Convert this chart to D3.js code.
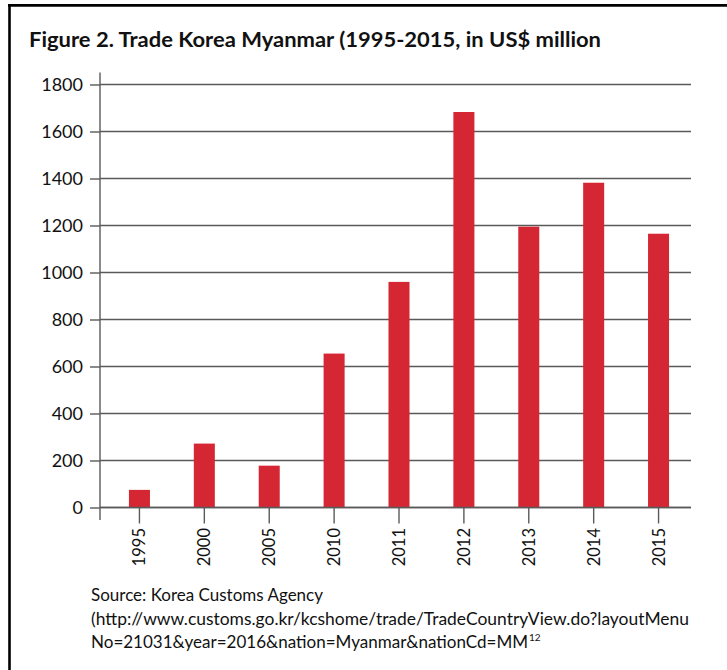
<!DOCTYPE html>
<html>
<head>
<meta charset="utf-8">
<script src="https://cdn.jsdelivr.net/npm/d3@7"></script>
<style>
  html, body { margin: 0; padding: 0; background: #fff; }
  svg { display: block; }
  text { font-family: Lato, "Open Sans", sans-serif; fill: #111; }
</style>
</head>
<body>
<svg id="chart" width="727" height="670"></svg>
<script>
const years = ["1995", "2000", "2005", "2010", "2011", "2012", "2013", "2014", "2015"];
const tradeValues = [75, 272, 178, 655, 960, 1683, 1195, 1382, 1165];
const yTicks = [0, 200, 400, 600, 800, 1000, 1200, 1400, 1600, 1800];
const titleText = "Figure 2. Trade Korea Myanmar (1995-2015, in US$ million";
const sourceLines = [
  "Source: Korea Customs Agency",
  "(http://www.customs.go.kr/kcshome/trade/TradeCountryView.do?layoutMenu",
  "No=21031&year=2016&nation=Myanmar&nationCd=MM"
];
const sourceSup = "12";

const svg = d3.select("#chart");
const W = 727, H = 670;
const plot = { left: 100, right: 691, top: 84.5, bottom: 507.5 };
const barColor = "#d52733";
const gridColor = "#5a5a5a";

// Frame (top and left)
svg.append("line").attr("x1", 8).attr("x2", W).attr("y1", 5.3).attr("y2", 5.3)
  .attr("stroke", "#000").attr("stroke-width", 2.8);
svg.append("line").attr("x1", 9.5).attr("x2", 9.5).attr("y1", 4).attr("y2", H)
  .attr("stroke", "#000").attr("stroke-width", 2.6);

// Title
svg.append("text")
  .attr("x", 29).attr("y", 47)
  .attr("font-size", 20).attr("font-weight", "bold")
  .attr("textLength", 572).attr("lengthAdjust", "spacingAndGlyphs")
  .text(titleText);

const x = d3.scaleBand().domain(years).range([107, plot.right])
  .paddingInner(0.676).paddingOuter(0.338);
const y = d3.scaleLinear().domain([0, 1800]).range([plot.bottom, plot.top]);

// Gridlines
svg.append("g").selectAll("line").data(yTicks).join("line")
  .attr("x1", plot.left).attr("x2", plot.right)
  .attr("y1", d => y(d)).attr("y2", d => y(d))
  .attr("stroke", gridColor).attr("stroke-width", 1.4);

// Bars
svg.append("g").selectAll("rect").data(years).join("rect")
  .attr("x", d => x(d))
  .attr("width", x.bandwidth())
  .attr("y", (d, i) => y(tradeValues[i]))
  .attr("height", (d, i) => y(0) - y(tradeValues[i]))
  .attr("fill", barColor);

// Redraw zero line on top of bars
svg.append("line")
  .attr("x1", plot.left).attr("x2", plot.right)
  .attr("y1", y(0)).attr("y2", y(0))
  .attr("stroke", gridColor).attr("stroke-width", 1.4);

// Y axis
const yAxis = svg.append("g").attr("transform", `translate(${plot.left},0)`)
  .call(d3.axisLeft(y).tickValues(yTicks).tickSize(10).tickPadding(7).tickFormat(d3.format("d")));
yAxis.select(".domain").remove();
yAxis.selectAll(".tick line").attr("stroke", gridColor).attr("stroke-width", 1.4);
yAxis.selectAll(".tick text").attr("font-size", 18).attr("font-family", "Lato").attr("fill", "#111");
svg.append("line")
  .attr("x1", plot.left).attr("x2", plot.left)
  .attr("y1", y(1800) - 12).attr("y2", y(0) + 12.5)
  .attr("stroke", gridColor).attr("stroke-width", 1.4);

// X axis
const xAxis = svg.append("g").attr("transform", `translate(0,${plot.bottom})`)
  .call(d3.axisBottom(x).tickSize(16).tickPadding(0));
xAxis.select(".domain").remove();
xAxis.selectAll(".tick line").attr("stroke", gridColor).attr("stroke-width", 1.4);
xAxis.selectAll(".tick text")
  .attr("font-size", 16.5).attr("font-family", "Lato").attr("fill", "#111")
  .attr("transform", "rotate(-90)")
  .attr("text-anchor", "end")
  .attr("x", -20.5).attr("y", 0).attr("dy", "0.36em");

// Source text
const srcY = [601, 624.5, 647.5];
const srcLen = [232, 598, 437];
sourceLines.forEach((t, i) => {
  svg.append("text")
    .attr("x", 91).attr("y", srcY[i])
    .attr("font-size", 17)
    .attr("textLength", srcLen[i]).attr("lengthAdjust", "spacingAndGlyphs")
    .text(t);
});
svg.append("text")
  .attr("x", 529).attr("y", srcY[2] - 7)
  .attr("font-size", 10)
  .text(sourceSup);
</script>
</body>
</html>
